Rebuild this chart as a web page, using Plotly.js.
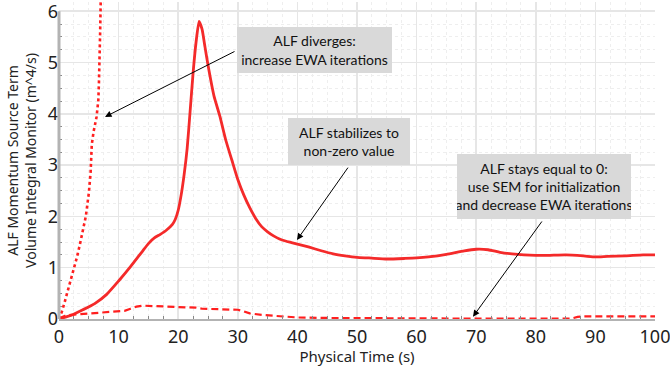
<!DOCTYPE html>
<html>
<head>
<meta charset="utf-8">
<script src="https://cdn.plot.ly/plotly-3.0.1.min.js"></script>
<style>html,body{margin:0;padding:0;background:#fff;}</style>
</head>
<body>
<div id="chart" style="width:670px;height:366px;"></div>
<script>
// Stabilizing case (solid)
const tStable = [0,2,4,6,8,10,12,14,15,16,17,18,19,19.5,20,20.5,21,21.5,22,22.5,23,23.5,24,24.5,25,26,27,28,29,30,31,32,33,34,35,36,37,38,39,40,42,44,46,48,50,52,55,58,60,62,65,68,70,72,74,76,78,80,82,85,88,90,92,95,98,100];
const yStable = [0,0.07,0.18,0.3,0.48,0.74,1.02,1.32,1.47,1.58,1.65,1.73,1.84,1.94,2.12,2.42,2.82,3.32,4.05,4.8,5.4,5.8,5.65,5.3,4.95,4.35,3.95,3.48,3.1,2.72,2.42,2.17,1.96,1.8,1.7,1.62,1.56,1.52,1.49,1.46,1.4,1.33,1.27,1.23,1.2,1.19,1.17,1.18,1.19,1.21,1.26,1.33,1.36,1.35,1.3,1.27,1.25,1.24,1.24,1.25,1.23,1.21,1.22,1.23,1.25,1.25];

// Zero case (dashed)
const tZero = [0,1,2,4,6,8,10,11,12,13,14,16,18,20,22,23,24,26,28,30,31,32,34,36,38,40,45,50,55,60,65,70,75,80,86,87,88,92,96,100];
const yZero = [0.01,0.06,0.08,0.1,0.12,0.14,0.15,0.16,0.2,0.24,0.26,0.25,0.24,0.23,0.22,0.22,0.2,0.19,0.19,0.18,0.15,0.11,0.08,0.06,0.04,0.03,0.02,0.015,0.01,0.01,0.01,0.01,0.01,0.01,0.01,0.04,0.05,0.05,0.05,0.05];

// Diverging case (dotted)
const tDiv = [0,0.5,1,1.5,2,2.5,3,3.5,4,4.5,5,5.3,5.5,5.8,6.3,6.6,6.7,6.8,6.9,7.0];
const yDiv = [0,0.15,0.35,0.55,0.75,0.97,1.2,1.45,1.72,2.0,2.45,2.85,3.4,3.65,3.94,4.27,4.6,4.95,5.57,6.2];

const xTitle = 'Physical Time (s)';
const yTitle = 'ALF Momentum Source Term<br>Volume Integral Monitor (m^4/s)';
const note1 = 'ALF diverges:<br>increase EWA iterations';
const note2 = 'ALF stabilizes to<br>non-zero value';
const note3 = 'ALF stays equal to 0:<br>use SEM for initialization<br>and decrease EWA iterations';

const red = '#ff1f1f';
const traces = [
  {x: tStable, y: yStable, type: 'scatter', mode: 'lines', line: {color: '#f42a2a', width: 2.8, shape: 'spline', smoothing: 0.5}, hoverinfo: 'skip'},
  {x: tZero, y: yZero, type: 'scatter', mode: 'lines', line: {color: red, width: 2.2, dash: '7px,4px'}, hoverinfo: 'skip'},
  {x: tDiv, y: yDiv, type: 'scatter', mode: 'lines', line: {color: red, width: 2.6, dash: 'dot'}, hoverinfo: 'skip'}
];

const gridC = '#e6e6e6';
const tickFont = {family: 'Noto Sans, Open Sans, sans-serif', size: 18, color: '#222'};
const boxFont = {family: 'Lato, Open Sans, sans-serif', size: 14, color: '#111'};

const layout = {
  width: 670, height: 366,
  margin: {l: 59, r: 15, t: 2, b: 47},
  paper_bgcolor: '#fff', plot_bgcolor: '#fff',
  showlegend: false,
  xaxis: {
    range: [0, 100], dtick: 10, tick0: 0,
    showgrid: true, gridcolor: gridC, gridwidth: 1.5,
    zeroline: false, showline: true, linecolor: '#b3b3b3', linewidth: 2,
    ticks: '', tickfont: tickFont, ticklabeloverflow: 'allow',
    minor: {dtick: 2.5, ticks: 'inside', ticklen: 3, tickcolor: '#888', showgrid: true, gridcolor: '#eeeeee', griddash: 'dot', gridwidth: 1},
    title: {text: xTitle, font: {family: 'Noto Sans, Open Sans, sans-serif', size: 15, color: '#222'}, standoff: 4}
  },
  yaxis: {
    range: [0, 6.18], dtick: 1, tick0: 0,
    showgrid: true, gridcolor: gridC, gridwidth: 1.5,
    zeroline: false, showline: false,
    ticks: '', tickfont: tickFont, ticklabeloverflow: 'allow',
    minor: {dtick: 0.25, ticks: 'inside', ticklen: 3, tickcolor: '#888', showgrid: true, gridcolor: '#eeeeee', griddash: 'dot', gridwidth: 1},
    title: {text: yTitle, font: {family: 'Noto Sans, Open Sans, sans-serif', size: 14, color: '#222'}, standoff: 7}
  },
  shapes: [
    {type: 'line', xref: 'paper', yref: 'y', x0: 0, x1: 0, y0: 0, y1: 6, line: {color: '#b3b3b3', width: 3}, layer: 'above'}
  ],
  annotations: [
    {x: 7.72, y: 3.94, xref: 'x', yref: 'y', ax: 29.7, ay: 5.23, axref: 'x', ayref: 'y', text: '', showarrow: true, arrowhead: 2, arrowsize: 1.3, arrowwidth: 1, arrowcolor: '#000', standoff: 0},
    {x: 39.93, y: 1.54, xref: 'x', yref: 'y', ax: 48.66, ay: 2.98, axref: 'x', ayref: 'y', text: '', showarrow: true, arrowhead: 2, arrowsize: 1.3, arrowwidth: 1, arrowcolor: '#000', standoff: 0},
    {x: 69.46, y: 0.045, xref: 'x', yref: 'y', ax: 81.2, ay: 1.93, axref: 'x', ayref: 'y', text: '', showarrow: true, arrowhead: 2, arrowsize: 1.3, arrowwidth: 1, arrowcolor: '#000', standoff: 0},
    {x: 42.9, y: 5.24, xref: 'x', yref: 'y', text: note1, showarrow: false, bgcolor: '#d9d9d9', width: 155, height: 46, borderpad: 0, borderwidth: 0, font: boxFont, align: 'center', xanchor: 'center', yanchor: 'middle'},
    {x: 48.66, y: 3.46, xref: 'x', yref: 'y', text: note2, showarrow: false, bgcolor: '#d9d9d9', width: 122, height: 47, borderpad: 0, borderwidth: 0, font: boxFont, align: 'center', xanchor: 'center', yanchor: 'middle'},
    {x: 81.4, y: 2.58, xref: 'x', yref: 'y', text: note3, showarrow: false, bgcolor: '#d9d9d9', width: 174, height: 65, borderpad: 0, borderwidth: 0, font: boxFont, align: 'center', xanchor: 'center', yanchor: 'middle'}
  ]
};

Plotly.newPlot('chart', traces, layout, {displayModeBar: false, staticPlot: true});
</script>
</body>
</html>
